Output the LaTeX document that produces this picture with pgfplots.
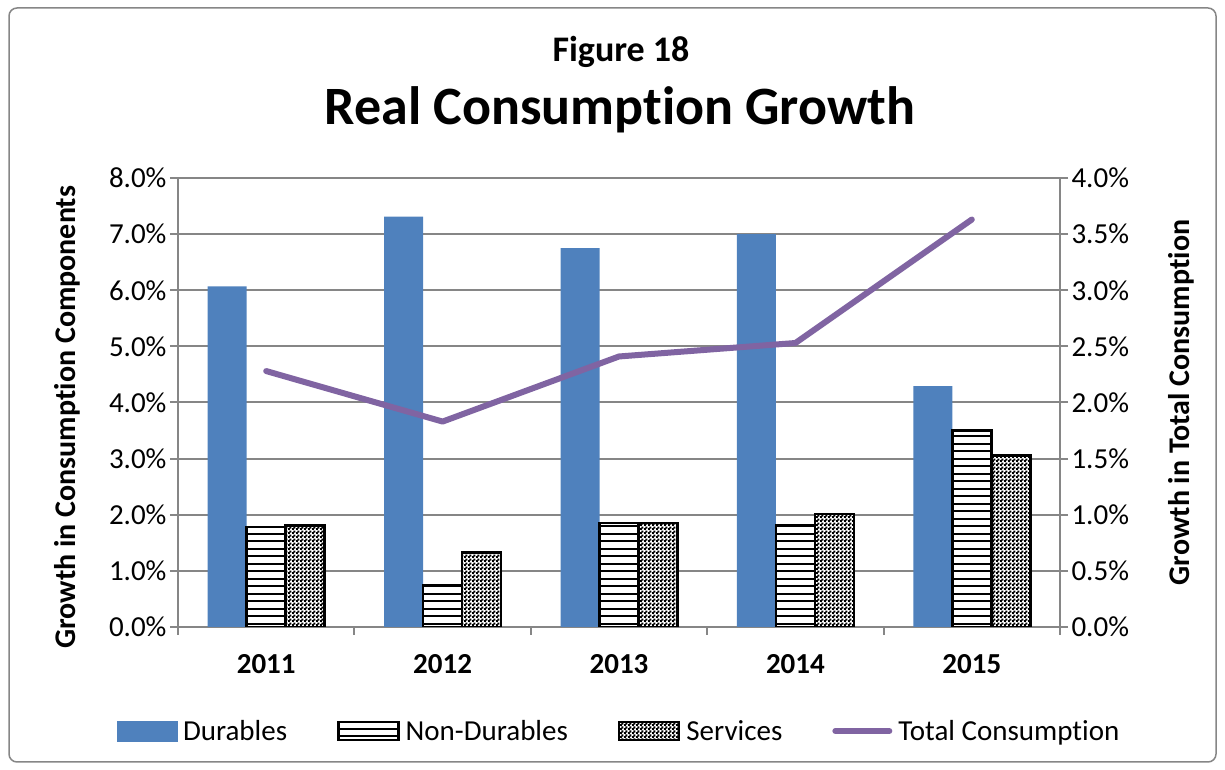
\documentclass[border=0pt]{standalone}
\usepackage{pgfplots}
\pgfplotsset{compat=1.18}
\usepackage{fontspec}
\setmainfont{Carlito}[Ligatures={NoCommon,NoContextual}]
\usetikzlibrary{patterns.meta}
\definecolor{bblue}{HTML}{4F81BD}
\definecolor{purp}{HTML}{8064A2}
\definecolor{gridgray}{HTML}{868686}
\tikzdeclarepattern{
  name=hlinesthick,
  type=uncolored,
  bottom left={(-1pt,-1pt)},
  top right={(8.5pt,8.5pt)},
  tile size={(7.5pt,7.5pt)},
  code={\draw[line width=2pt] (-1pt,3.75pt) -- (8.5pt,3.75pt);}
}
\tikzdeclarepattern{
  name=checker,
  type=uncolored,
  bottom left={(0pt,0pt)},
  top right={(4pt,4pt)},
  tile size={(4pt,4pt)},
  code={\fill (-0.3pt,-0.3pt) rectangle (2.3pt,2.3pt); \fill (1.7pt,1.7pt) rectangle (4.3pt,4.3pt);}
}
\pgfplotsset{
  /pgf/number format/assume math mode=true,
  tfont/.style={font=\fontsize{29}{32}\selectfont},
}
\begin{document}
\begin{tikzpicture}
\useasboundingbox (0,0) rectangle (1225pt,770pt);
\draw[gridgray, line width=1.5pt, rounded corners=8pt] (9pt,8pt) rectangle (1216pt,762pt);
\node[font=\bfseries\fontsize{36}{40}\selectfont, anchor=base] at (621pt,708pt) {Figure 18};
\node[font=\bfseries\fontsize{54}{60}\selectfont, anchor=base] at (620pt,645pt) {Real Consumption Growth};

\begin{axis}[
  at={(178pt,143pt)}, anchor=south west,
  scale only axis, width=882pt, height=449pt,
  ybar=0pt, bar width=39pt,
  xmin=-0.5, xmax=4.5, ymin=0, ymax=8,
  xtick={-0.5,0.5,1.5,2.5,3.5,4.5},
  xticklabels={2011,2012,2013,2014,2015},
  x tick label as interval,
  ytick={0,1,...,8},
  yticklabel={\pgfmathprintnumber[fixed,fixed zerofill,precision=1]{\tick}\%},
  ymajorgrids, xmajorgrids=false,
  major grid style={gridgray,line width=2pt},
  axis line style={gridgray,line width=2pt},
  tick style={gridgray,line width=2pt},
  tick align=outside, major tick length=8pt,
  tick pos=left,
  yticklabel style={tfont},
  xticklabel style={font=\bfseries\fontsize{29}{32}\selectfont, yshift=-16pt},
  ylabel={Growth in Consumption Components},
  ylabel style={font=\bfseries\fontsize{30}{32}\selectfont, at={(axis description cs:-0.125,0.467)}, anchor=center},
]
\addplot[fill=bblue, draw=none] coordinates {(0,6.07) (1,7.31) (2,6.75) (3,7.00) (4,4.29)};
\addplot[fill=white, draw=black, line width=2.5pt, postaction={pattern=hlinesthick, pattern color=black}] coordinates {(0,1.78) (1,0.74) (2,1.85) (3,1.81) (4,3.50)};
\addplot[fill=white, draw=black, line width=2.5pt, postaction={pattern=checker, pattern color=black}] coordinates {(0,1.81) (1,1.33) (2,1.85) (3,2.01) (4,3.06)};
\end{axis}

\begin{axis}[
  at={(178pt,143pt)}, anchor=south west,
  scale only axis, width=882pt, height=449pt,
  xmin=-0.5, xmax=4.5, ymin=0, ymax=4,
  axis x line=none, axis y line*=right,
  ytick={0,0.5,...,4},
  yticklabel={\pgfmathprintnumber[fixed,fixed zerofill,precision=1]{\tick}\%},
  axis line style={gridgray,line width=2pt},
  tick style={gridgray,line width=2pt},
  tick align=outside, major tick length=8pt,
  yticklabel style={tfont},
  ylabel={Growth in Total Consumption},
  ylabel style={font=\bfseries\fontsize{30}{32}\selectfont, at={(axis description cs:1.137,0.5)}, anchor=center, rotate=0},
  legend columns=4,
  legend style={at={(0.5,-0.2316)}, anchor=center, draw=none, fill=none, font=\fontsize{29}{32}\selectfont,
    /tikz/every even column/.append style={column sep=48pt},
    /tikz/every odd column/.append style={column sep=4pt}},
  legend cell align=left,
]
\addlegendimage{legend image code/.code={\fill[bblue] (0pt,-10pt) rectangle (60pt,10pt);}}
\addlegendimage{legend image code/.code={\draw[fill=white,draw=black,line width=2.5pt,postaction={pattern=hlinesthick,pattern color=black}] (0pt,-9pt) rectangle (60pt,9pt);}}
\addlegendimage{legend image code/.code={\draw[fill=white,draw=black,line width=2.5pt,postaction={pattern=checker,pattern color=black}] (0pt,-9pt) rectangle (60pt,9pt);}}
\addplot[purp, line width=6pt, line cap=round, line join=round, mark=none,
  legend image code/.code={\draw[purp,line width=6pt,line cap=round] (3pt,0pt) -- (57pt,0pt);}]
  coordinates {(0,2.28) (1,1.83) (2,2.41) (3,2.53) (4,3.63)};
\legend{Durables, Non-Durables, Services, Total Consumption}
\end{axis}
\end{tikzpicture}
\end{document}
